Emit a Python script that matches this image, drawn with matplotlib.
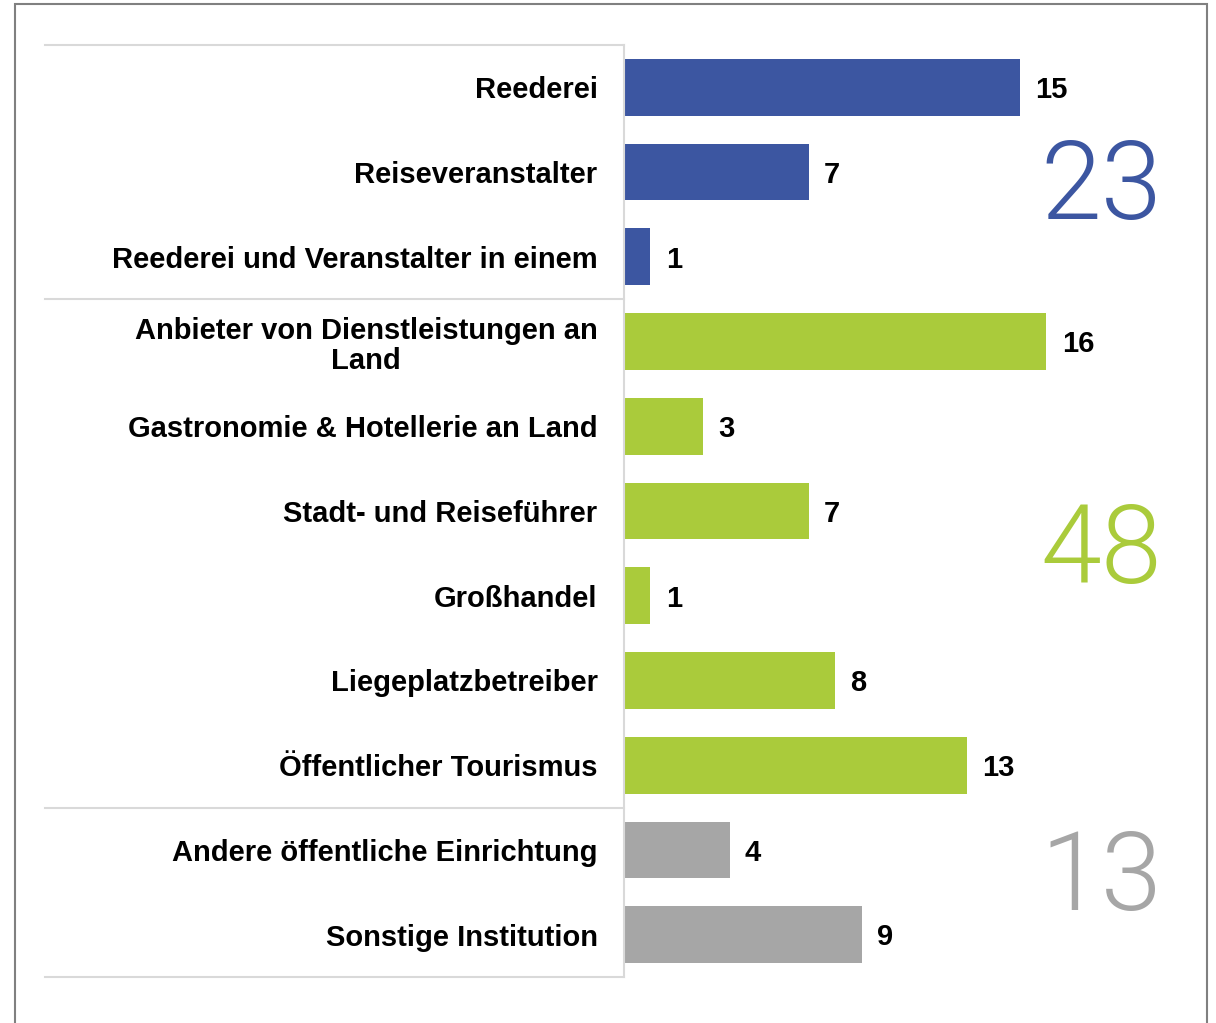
import matplotlib.pyplot as plt
from matplotlib.patches import Rectangle
import matplotlib.transforms as mtransforms

categories = ["Reederei", "Reiseveranstalter", "Reederei und Veranstalter in einem",
              "Anbieter von Dienstleistungen an\nLand", "Gastronomie & Hotellerie an Land",
              "Stadt- und Reiseführer", "Großhandel", "Liegeplatzbetreiber",
              "Öffentlicher Tourismus", "Andere öffentliche Einrichtung", "Sonstige Institution"]
values = [15, 7, 1, 16, 3, 7, 1, 8, 13, 4, 9]
groups = [0, 0, 0, 1, 1, 1, 1, 1, 1, 2, 2]
group_totals = [23, 48, 13]
group_colors = ["#3c56a1", "#aacb3b", "#a6a6a6"]

plt.rcParams['font.family'] = ['Liberation Sans', 'DejaVu Sans']

fig = plt.figure(figsize=(12.16, 10.23), dpi=100)
W, H = 1216, 1023
ax = fig.add_axes([624 / W, 1 - 977 / H, (1207 - 624) / W, (977 - 45) / H])

n = len(categories)
ypos = list(range(n))
colors = [group_colors[g] for g in groups]
bars = ax.barh(ypos, values, height=0.67, color=colors)
ax.set_ylim(n - 0.5, -0.5)
ax.set_xlim(0, 22.08)

ax.set_yticks(ypos)
ax.set_yticklabels(categories, fontsize=21, fontweight='bold', multialignment='center',
                   linespacing=1.1)
ax.tick_params(axis='y', length=0, pad=19)
ax.set_xticks([])
for s in ['top', 'right', 'bottom']:
    ax.spines[s].set_visible(False)
ax.spines['left'].set_color('#d9d9d9')
ax.spines['left'].set_linewidth(1.5)

for b, v in zip(bars, values):
    ax.annotate(str(v), (b.get_width(), b.get_y() + b.get_height() / 2),
                xytext=(11, -2), textcoords='offset points', va='center', ha='left',
                fontsize=21, fontweight='bold')

# Trennlinien zwischen den Gruppen
tr = mtransforms.blended_transform_factory(fig.transFigure, ax.transData)
for yb in [-0.5, 2.5, 8.5, n - 0.5]:
    ax.plot([45 / W, 624 / W], [yb, yb], transform=tr, color='#d9d9d9', lw=1.5, clip_on=False)

# Summen je Gruppe
centers = [1.2, 5.5, 9.36]
for tot, c, yc in zip(group_totals, group_colors, centers):
    ax.text(1101 / W, yc, str(tot), transform=tr, color=c, fontsize=79,
            family=['Roboto', 'DejaVu Sans'], fontweight=300, ha='center', va='center')

fig.patches.append(Rectangle((15 / W, -0.1), (1207 - 15) / W, 1.1 - 4 / H, transform=fig.transFigure,
                             fill=False, edgecolor='#808080', lw=1.5))

fig.savefig("out.png", dpi=100)
